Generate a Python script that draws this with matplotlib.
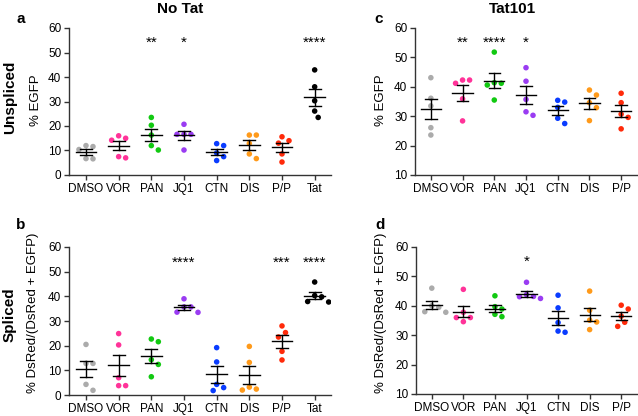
import numpy as np
import matplotlib
matplotlib.use("Agg")
import matplotlib.pyplot as plt

plt.rcParams['font.family'] = ['Liberation Sans', 'DejaVu Sans']

# ---------------- data ----------------
cats_notat = ["DMSO", "VOR", "PAN", "JQ1", "CTN", "DIS", "P/P", "Tat"]
cats_tat = ["DMSO", "VOR", "PAN", "JQ1", "CTN", "DIS", "P/P"]

colors = {"DMSO": "#ababab", "VOR": "#ff3399", "PAN": "#12c912", "JQ1": "#9a3cf2",
          "CTN": "#0a3cff", "DIS": "#ff9a1a", "P/P": "#ff2a0a", "Tat": "#000000"}

a_vals = {
    "DMSO": [12.0, 11.6, 10.4, 6.7, 6.6],
    "VOR": [15.0, 16.0, 14.2, 7.5, 7.0],
    "PAN": [23.5, 20.3, 16.3, 12.0, 10.2],
    "JQ1": [20.7, 16.6, 16.6, 16.6, 10.2],
    "CTN": [12.8, 12.0, 9.0, 7.5, 5.9],
    "DIS": [16.3, 16.3, 12.9, 8.6, 6.7],
    "P/P": [15.6, 14.0, 13.0, 8.6, 5.3],
    "Tat": [42.9, 36.0, 30.3, 26.1, 23.5],
}
c_vals = {
    "DMSO": [43.1, 36.1, 33.5, 26.1, 23.6],
    "VOR": [42.3, 42.3, 41.2, 35.9, 28.4],
    "PAN": [51.8, 41.4, 41.2, 40.6, 35.5],
    "JQ1": [46.5, 41.9, 35.7, 31.5, 30.3],
    "CTN": [34.8, 35.4, 33.0, 29.3, 27.5],
    "DIS": [37.2, 38.9, 34.6, 32.9, 28.5],
    "P/P": [37.8, 34.6, 30.7, 29.6, 25.7],
}
b_vals = {
    "DMSO": [20.5, 12.8, 12.8, 4.3, 1.9],
    "VOR": [24.9, 20.3, 7.0, 3.8, 3.8],
    "PAN": [22.7, 21.6, 14.3, 12.4, 7.4],
    "JQ1": [39.0, 35.7, 35.7, 33.6, 33.5],
    "CTN": [19.2, 13.4, 4.3, 3.0, 1.8],
    "DIS": [19.7, 13.2, 3.2, 2.4, 2.0],
    "P/P": [28.0, 25.3, 23.5, 17.7, 14.2],
    "Tat": [45.8, 40.3, 39.8, 37.9, 37.7],
}
d_vals = {
    "DMSO": [46.0, 40.0, 39.5, 38.0, 37.8],
    "VOR": [45.6, 37.8, 36.0, 36.0, 34.6],
    "PAN": [43.4, 39.7, 38.9, 37.1, 36.3],
    "JQ1": [48.0, 43.8, 43.2, 43.1, 42.5],
    "CTN": [43.6, 39.3, 34.3, 31.4, 31.0],
    "DIS": [45.0, 38.5, 35.1, 34.5, 31.9],
    "P/P": [40.2, 38.9, 36.5, 34.4, 33.0],
}
a_stars = {"PAN": "**", "JQ1": "*", "Tat": "****"}
c_stars = {"VOR": "**", "PAN": "****", "JQ1": "*"}
b_stars = {"JQ1": "****", "P/P": "***", "Tat": "****"}
d_stars = {"JQ1": "*"}

W, H = 638, 416
fig = plt.figure(figsize=(W / 100, H / 100), dpi=100)


def px_axes(x0, x1, y0, y1):
    return fig.add_axes([x0 / W, 1 - y1 / H, (x1 - x0) / W, (y1 - y0) / H])


def swarm_offsets(ax, xc, vals, diam=7.0):
    # place points so they do not overlap, in pixel space
    placed = []
    order = np.argsort(vals)[::-1]
    res = [0.0] * len(vals)
    for i in order:
        y = vals[i]
        xpx0, ypx = ax.transData.transform((xc, y))
        cands = [0.0]
        for k in range(1, 6):
            cands += [k * diam * 0.5, -k * diam * 0.5]
        chosen = cands[-1]
        for c in cands:
            if all(np.hypot(px - (xpx0 + c), py - ypx) >= diam for (px, py) in placed):
                chosen = c
                break
        placed.append((xpx0 + chosen, ypx))
        res[i] = ax.transData.inverted().transform((xpx0 + chosen, ypx))[0]
    return res


def draw_panel(ax, cats, vals, stars, ylim, yticks, xlim, star_y):
    ax.set_xlim(*xlim)
    ax.set_ylim(*ylim)
    for i, c in enumerate(cats):
        v = np.array(vals[c])
        xs = swarm_offsets(ax, i, v)
        ax.scatter(xs, v, s=16, color=colors[c], edgecolors='none', zorder=2)
        m = v.mean()
        sem = v.std(ddof=1) / np.sqrt(len(v))
        ax.plot([i - 0.32, i + 0.32], [m, m], color='black', lw=1.0, zorder=3)
        ax.plot([i, i], [m - sem, m + sem], color='black', lw=1.0, zorder=3)
        for yy in (m - sem, m + sem):
            ax.plot([i - 0.18, i + 0.18], [yy, yy], color='black', lw=1.0, zorder=3)
        if c in stars:
            ax.text(i, star_y, stars[c], ha='center', va='baseline', fontsize=11)
    ax.set_xticks(range(len(cats)))
    ax.set_xticklabels(cats, fontsize=8.5)
    ax.set_yticks(yticks)
    ax.tick_params(axis='y', labelsize=8.5)
    for s in ('top', 'right'):
        ax.spines[s].set_visible(False)
    for s in ('left', 'bottom'):
        ax.spines[s].set_linewidth(1.0)
        ax.spines[s].set_color('#333333')
    ax.tick_params(direction='out', length=3.5, width=1.0, color='#333333', pad=2)


ax_a = px_axes(69, 331, 28, 175)
draw_panel(ax_a, cats_notat, a_vals, a_stars, (0, 60), range(0, 61, 10), (-0.52, 7.5), 52.2)
ax_c = px_axes(415, 637, 28, 175)
draw_panel(ax_c, cats_tat, c_vals, c_stars, (10, 60), range(10, 61, 10), (-0.5, 6.5), 53.5)
ax_b = px_axes(69, 331, 247, 395)
draw_panel(ax_b, cats_notat, b_vals, b_stars, (0, 60), range(0, 61, 10), (-0.52, 7.5), 52.0)
ax_d = px_axes(416, 637, 247, 394)
draw_panel(ax_d, cats_tat, d_vals, d_stars, (10, 60), range(10, 61, 10), (-0.5, 6.5), 53.6)


def ftext(x, y, s, **kw):
    fig.text(x / W, 1 - y / H, s, **kw)


# y labels
ftext(36, 100, "% EGFP", rotation=90, ha='center', va='center', fontsize=9.5)
ftext(381, 100, "% EGFP", rotation=90, ha='center', va='center', fontsize=9.5)
ftext(33, 313, "% DsRed/(DsRed + EGFP)", rotation=90, ha='center', va='center', fontsize=9.5)
ftext(381, 313, "% DsRed/(DsRed + EGFP)", rotation=90, ha='center', va='center', fontsize=9.5)

# row labels
ftext(10, 97, "Unspliced", rotation=90, ha='center', va='center', fontsize=11, fontweight='bold')
ftext(10, 315, "Spliced", rotation=90, ha='center', va='center', fontsize=11, fontweight='bold')

# titles
ftext(180, 9, "No Tat", ha='center', va='center', fontsize=11, fontweight='bold')
ftext(512, 9, "Tat101", ha='center', va='center', fontsize=11, fontweight='bold')

# panel letters
ftext(21, 19, "a", ha='center', va='center', fontsize=11, fontweight='bold')
ftext(379, 19, "c", ha='center', va='center', fontsize=11, fontweight='bold')
ftext(21, 225, "b", ha='center', va='center', fontsize=11, fontweight='bold')
ftext(380, 225, "d", ha='center', va='center', fontsize=11, fontweight='bold')

fig.savefig("out.png", dpi=100)
